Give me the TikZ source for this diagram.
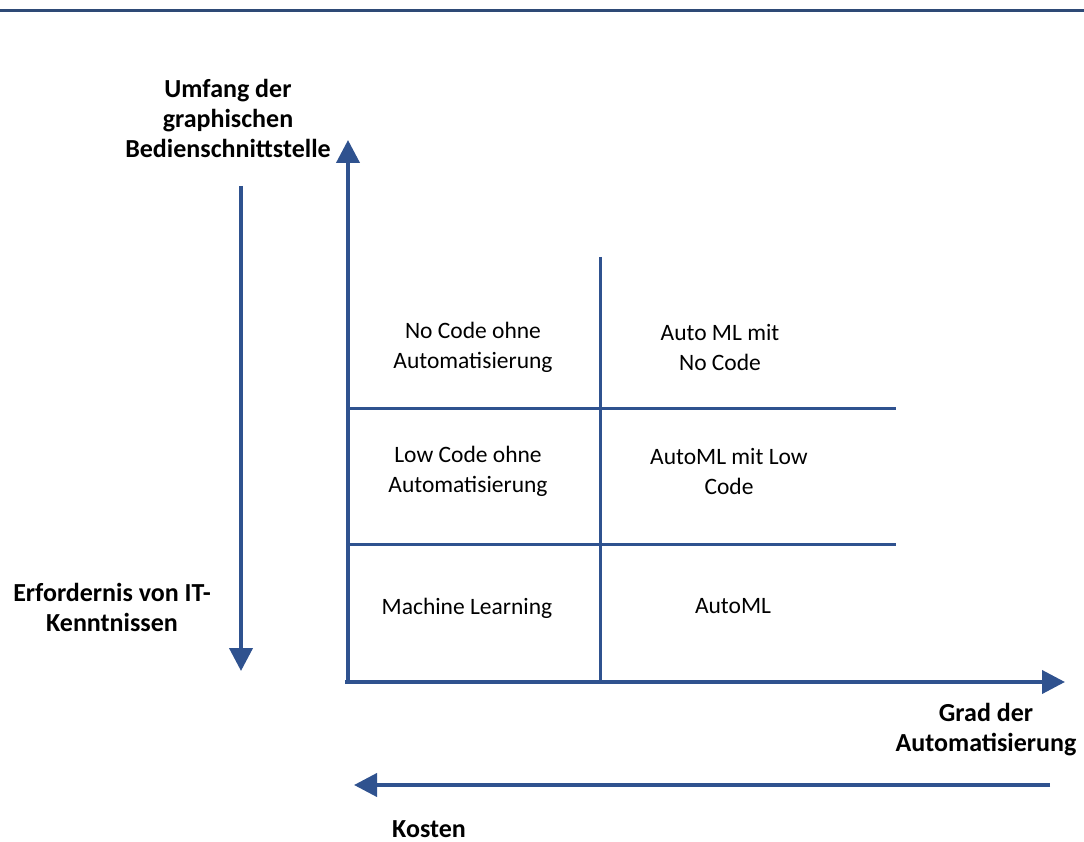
\documentclass[tikz,border=0pt]{standalone}
\usepackage{fontspec}
\setmainfont{Carlito}
\usetikzlibrary{arrows.meta}
\definecolor{axisblue}{RGB}{47,82,143}
\definecolor{rulerblue}{RGB}{46,74,118}

\begin{document}
\begin{tikzpicture}[x=1pt,y=-1pt,
    axis/.style={draw=axisblue, line width=4pt, -{Triangle[length=23pt,width=23pt]}},
    grid/.style={draw=axisblue, line width=3pt},
    label/.style={font=\fontsize{26}{30}\selectfont\bfseries, align=center, inner sep=0pt},
    cell/.style={font=\fontsize{23.5}{30}\selectfont, align=center, inner sep=0pt}]
    \useasboundingbox (0,0) rectangle (1084,842);
    % top rule
    \coordinate (RL) at (0,10.5);
    \coordinate (RR) at (1084,10.5);
    \draw[rulerblue, line width=3pt] (RL) -- (RR);
    % axes
    \coordinate (O)  at (348,682);
    \coordinate (O0) at (345,682);
    \coordinate (Y)  at (348,140);
    \coordinate (X)  at (1065,682);
    \draw[axis] (O) -- (Y);
    \draw[axis] (O0) -- (X);
    % side arrows
    \coordinate (IT1) at (241,186);
    \coordinate (IT2) at (241,671);
    \coordinate (K1)  at (1050,785);
    \coordinate (K2)  at (354,785);
    \draw[axis] (IT1) -- (IT2);
    \draw[axis] (K1) -- (K2);
    % grid
    \coordinate (V1) at (600,257);
    \coordinate (V2) at (600,682);
    \coordinate (H1) at (348,408);
    \coordinate (H2) at (896,408);
    \coordinate (H3) at (348,544);
    \coordinate (H4) at (896,544);
    \draw[grid] (V1) -- (V2);
    \draw[grid] (H1) -- (H2);
    \draw[grid] (H3) -- (H4);
    % axis labels
    \node[label] (umfang) at (228,118) {Umfang der\\graphischen\\Bedienschnittstelle};
    \node[label] (it)     at (112,607) {Erfordernis von IT-\\Kenntnissen};
    \node[label] (grad)   at (986,730) {Grad der\\Automatisierung};
    \node[label] (kosten) at (429,829) {Kosten};
    % cells
    \node[cell] (nc)   at (473,347) {No Code ohne\\Automatisierung};
    \node[cell] (amnc) at (720,347) {Auto ML mit\\No Code};
    \node[cell] (lc)   at (468,471) {Low Code ohne\\Automatisierung};
    \node[cell] (amlc) at (729,471) {AutoML mit Low\\Code};
    \node[cell] (ml)   at (467,608) {Machine Learning};
    \node[cell] (aml)  at (733,606) {AutoML};
\end{tikzpicture}
\end{document}
